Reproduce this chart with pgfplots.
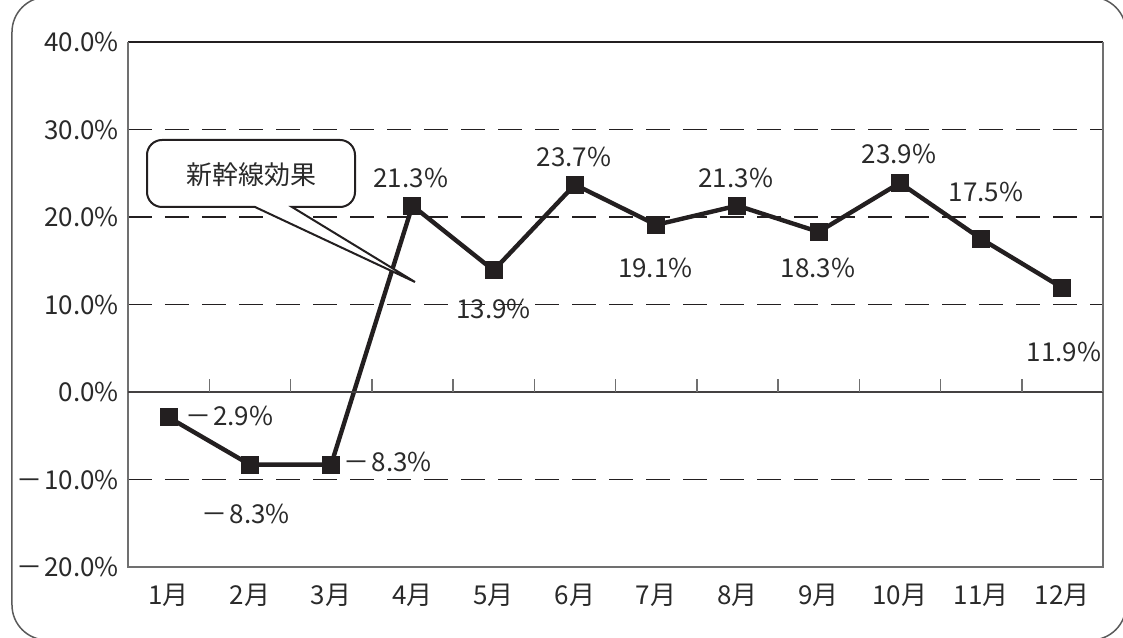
\documentclass[border=0pt]{standalone}
\usepackage{fontspec}
\setmainfont{Noto Sans CJK JP}
\usepackage{pgfplots}
\pgfplotsset{compat=1.18}
\definecolor{ink}{HTML}{231F20}
\definecolor{txt}{HTML}{2A2A2A}
\definecolor{frame}{HTML}{707070}
\newcommand{\mn}{－\hspace{1pt}}
\begin{document}
\begin{tikzpicture}
\useasboundingbox (-64pt,-35pt) rectangle (497.5pt,283.5pt);
\begin{scope}
\clip (-64pt,-35pt) rectangle (497.5pt,283.5pt);
\draw[frame!80!black, line width=0.75pt, rounded corners=17.5pt] (-58pt,285pt) rectangle (499pt,-36.5pt);
\end{scope}
\begin{axis}[
  at={(0pt,0pt)}, anchor=south west,
  scale only axis, width=487.5pt, height=262.5pt,
  xmin=0.5, xmax=12.5, ymin=-20, ymax=40,
  xtick={1,...,12},
  xticklabels={1月,2月,3月,4月,5月,6月,7月,8月,9月,10月,11月,12月},
  ytick={-20,-10,0,10,20,30,40},
  yticklabels={\mn20.0\%,\mn10.0\%,0.0\%,10.0\%,20.0\%,30.0\%,40.0\%},
  major tick length=0pt,
  axis line style={draw=none},
  ymajorgrids,
  major grid style={ink, line width=0.75pt, dash pattern=on 12pt off 6.5pt},
  tick label style={font=\fontsize{13}{15}\selectfont, text=txt},
  yticklabel style={anchor=east, xshift=-1pt},
  xticklabel style={anchor=north, yshift=-5pt},
  clip=false,
]
\addplot[ink, line width=2.2pt, mark=square*, mark size=4.2pt, mark options={solid, fill=ink, line width=0.5pt}] coordinates {
(1,-2.9) (2,-8.3) (3,-8.3) (4,21.3) (5,13.9) (6,23.7)
(7,19.1) (8,21.3) (9,18.3) (10,23.9) (11,17.5) (12,11.9)};
\begin{scope}[every node/.style={font=\fontsize{13}{15}\selectfont, text=txt, inner sep=0pt}]
\node[anchor=west] at (axis cs:1.2,-2.74) {\mn2.9\%};
\node at (axis cs:1.95,-13.94) {\mn8.3\%};
\node[anchor=west] at (axis cs:3.15,-8.0) {\mn8.3\%};
\node at (axis cs:3.98,24.46) {21.3\%};
\node at (axis cs:5.0,9.49) {13.9\%};
\node at (axis cs:5.99,26.86) {23.7\%};
\node at (axis cs:6.99,14.17) {19.1\%};
\node at (axis cs:7.98,24.46) {21.3\%};
\node at (axis cs:8.99,14.17) {18.3\%};
\node at (axis cs:9.99,27.2) {23.9\%};
\node at (axis cs:11.06,22.86) {17.5\%};
\node at (axis cs:12.02,4.57) {11.9\%};
\end{scope}
\end{axis}
% frame
\draw[ink, line width=0.75pt] (0pt,262.5pt) -- (487.5pt,262.5pt);
\draw[frame, line width=0.75pt] (0pt,262.5pt) -- (0pt,0pt) -- (487.5pt,0pt) -- (487.5pt,262.5pt);
% zero line and ticks
\draw[ink!85, line width=1pt] (0pt,87.5pt) -- (487.5pt,87.5pt);
\foreach \k in {1,...,12} \draw[frame, line width=0.75pt] ({\k*40.625pt},87.5pt) -- ++(0,6.5pt);
% callout
\draw[ink, line width=1pt, fill=white]
  (63.5pt,180pt) -- (143.5pt,142.5pt) -- (82pt,180pt)
  [rounded corners=7.5pt] -- (113.5pt,180pt) -- (113.5pt,213.5pt) -- (9.5pt,213.5pt) -- (9.5pt,180pt) [sharp corners] -- cycle;
\node[font=\fontsize{13}{15}\selectfont, text=txt] at (61.5pt,196pt) {新幹線効果};
\end{tikzpicture}
\end{document}
